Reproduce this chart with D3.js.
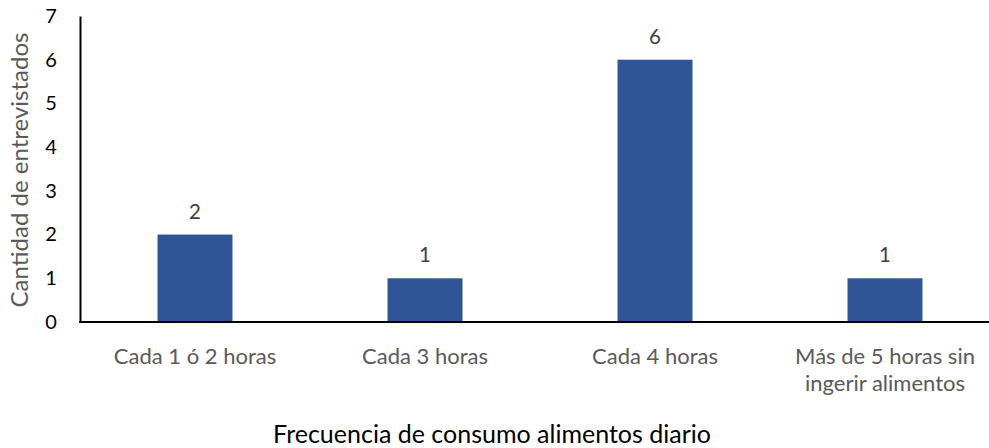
<!DOCTYPE html>
<html>
<head>
<meta charset="utf-8">
<script src="https://cdn.jsdelivr.net/npm/d3@7"></script>
<style>
  html, body { margin: 0; padding: 0; background: #fff; }
  svg { display: block; }
  text { font-family: Lato, "Open Sans", sans-serif; }
</style>
</head>
<body>
<script>
const categories = [
  ["Cada 1 ó 2 horas"],
  ["Cada 3 horas"],
  ["Cada 4 horas"],
  ["Más de 5 horas sin", "ingerir alimentos"]
];
const values = [2, 1, 6, 1];
const yTicks = [0, 1, 2, 3, 4, 5, 6, 7];
const yLabel = "Cantidad de entrevistados";
const xLabel = "Frecuencia de consumo alimentos diario";

const W = 989, H = 448;
const svg = d3.select("body").append("svg").attr("width", W).attr("height", H);

const x = d3.scaleBand()
  .domain(d3.range(categories.length))
  .range([80, 1000])
  .paddingInner(0.674)
  .paddingOuter(0.337);
const y = d3.scaleLinear().domain([0, 7]).range([322, 16]);

// bars
svg.selectAll("rect.bar").data(values).enter().append("rect")
  .attr("class", "bar")
  .attr("x", (d, i) => x(i))
  .attr("width", x.bandwidth())
  .attr("y", d => y(d))
  .attr("height", d => y(0) - y(d))
  .attr("fill", "#2F5597");

// value labels
svg.selectAll("text.val").data(values).enter().append("text")
  .attr("class", "val")
  .attr("x", (d, i) => x(i) + x.bandwidth() / 2)
  .attr("y", d => y(d) - 16)
  .attr("text-anchor", "middle")
  .attr("font-size", 20.5)
  .attr("fill", "#404040")
  .text(d => d);

// y axis
const yAxis = d3.axisLeft(y).tickValues(yTicks).tickSize(0).tickPadding(23).tickFormat(d3.format("d"));
const gy = svg.append("g").attr("transform", "translate(80,0)").call(yAxis);
gy.select(".domain").attr("stroke", "#000").attr("stroke-width", 2);
gy.selectAll("text").attr("font-size", 20).attr("fill", "#000")
  .attr("text-anchor", "middle").attr("dx", "-0.3em")
  .style("font-family", "Lato, 'Open Sans', sans-serif");

// baseline
svg.append("line")
  .attr("x1", 79).attr("x2", W)
  .attr("y1", y(0)).attr("y2", y(0))
  .attr("stroke", "#000").attr("stroke-width", 2);

// category labels
const cat = svg.selectAll("text.cat").data(categories).enter().append("text")
  .attr("class", "cat")
  .attr("text-anchor", "middle")
  .attr("font-size", 22)
  .attr("fill", "#595959");
cat.each(function(lines, i) {
  const t = d3.select(this);
  lines.forEach((ln, j) => {
    t.append("tspan")
      .attr("x", x(i) + x.bandwidth() / 2)
      .attr("y", 364 + j * 27)
      .text(ln);
  });
});

// y label
svg.append("text")
  .attr("transform", "translate(28,170) rotate(-90)")
  .attr("text-anchor", "middle")
  .attr("font-size", 24)
  .attr("fill", "#595959")
  .text(yLabel);

// x label
svg.append("text")
  .attr("x", 492).attr("y", 443)
  .attr("text-anchor", "middle")
  .attr("font-size", 25)
  .attr("fill", "#000")
  .text(xLabel);
</script>
</body>
</html>
